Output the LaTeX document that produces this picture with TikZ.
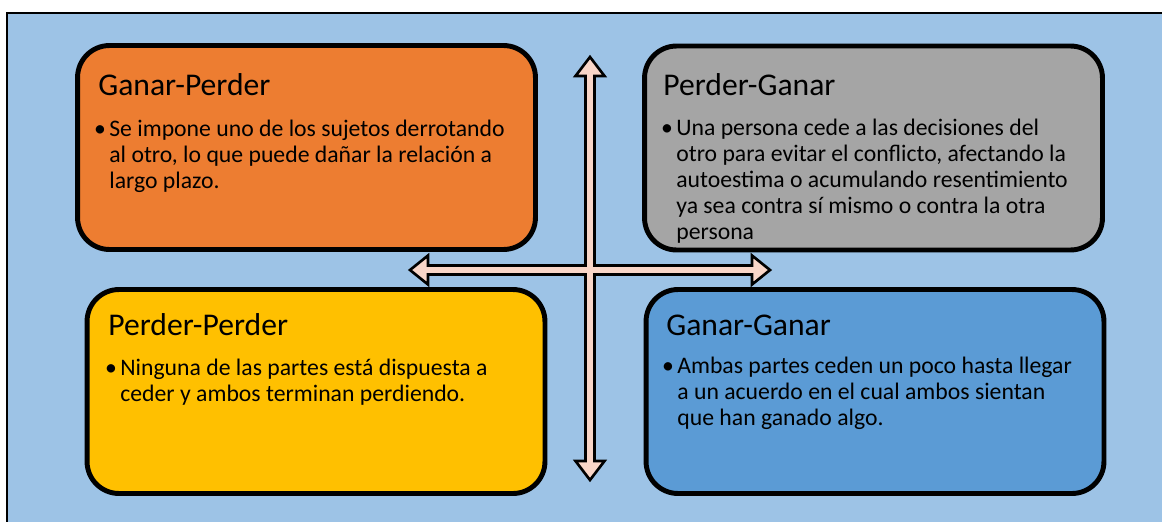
\documentclass[tikz,border=0pt]{standalone}
\usepackage{fontspec}
\setmainfont{Carlito}

\definecolor{fondo}{HTML}{9DC3E6}
\definecolor{naranja}{HTML}{ED7D31}
\definecolor{gris}{HTML}{A5A5A5}
\definecolor{amarillo}{HTML}{FFC000}
\definecolor{azul}{HTML}{5B9BD5}
\definecolor{rosa}{HTML}{F9D6C8}

\newcommand{\lineas}[1]{\begin{tabular}[t]{@{}l@{}}\llap{\textbullet\hspace{2pt}}#1\end{tabular}}

\begin{document}
\begin{tikzpicture}[x=0.02cm, y=-0.02cm]
    \tikzstyle{quadrant} = [rectangle, draw, rounded corners=0.64cm, line width=2.8pt,
        minimum width=9.16cm, minimum height=4.08cm, inner sep=0pt]
    \tikzstyle{title} = [anchor=base west, inner sep=0pt, font=\fontsize{18}{21}\selectfont]
    \tikzstyle{body} = [anchor=base west, inner sep=0pt,
        font=\fontsize{13.5}{14.8}\selectfont]

    \clip (0,0) rectangle (1162,521);
    \draw [fill=fondo, line width=0.8pt] (7,13) rectangle (1175,535);

    \node (gp) at (306.5, 147.5) [quadrant, fill=naranja] {};
    \node (pg) at (873.5, 148) [quadrant, fill=gris] {};
    \node (pp) at (316, 391.5) [quadrant, fill=amarillo] {};
    \node (gg) at (875, 391.5) [quadrant, fill=azul] {};

    \node (gpt) at (98, 95) [title] {Ganar-Perder};
    \node (gpb) at (109, 136) [body] {\lineas{Se impone uno de los sujetos derrotando \\
        al otro, lo que puede dañar la relación a \\ largo plazo.}};

    \node (pgt) at (663, 95) [title] {Perder-Ganar};
    \node (pgb) at (676, 135) [body] {\lineas{Una persona cede a las decisiones del \\
        otro para evitar el conflicto, afectando la \\ autoestima o acumulando resentimiento \\
        ya sea contra sí mismo o contra la otra \\ persona}};

    \node (ppt) at (108, 335) [title] {Perder-Perder};
    \node (ppb) at (120, 375) [body] {\lineas{Ninguna de las partes está dispuesta a \\
        ceder y ambos terminan perdiendo.}};

    \node (ggt) at (666, 335) [title] {Ganar-Ganar};
    \node (ggb) at (677, 373) [body] {\lineas{Ambas partes ceden un poco hasta llegar \\
        a un acuerdo en el cual ambos sientan \\ que han ganado algo.}};

    % cross of double arrows
    \draw [fill=rosa, line width=1.5pt]
        (590,57) -- (604.5,76) -- (594.5,76) -- (594.5,265.5) -- (752,265.5) -- (752,255.5)
        -- (770,270) -- (752,284.5) -- (752,274.5) -- (594.5,274.5) -- (594.5,461) -- (604.5,461)
        -- (590,480) -- (575.5,461) -- (585.5,461) -- (585.5,274.5) -- (428,274.5) -- (428,284.5)
        -- (410,270) -- (428,255.5) -- (428,265.5) -- (585.5,265.5) -- (585.5,76) -- (575.5,76) -- cycle;
\end{tikzpicture}
\end{document}
